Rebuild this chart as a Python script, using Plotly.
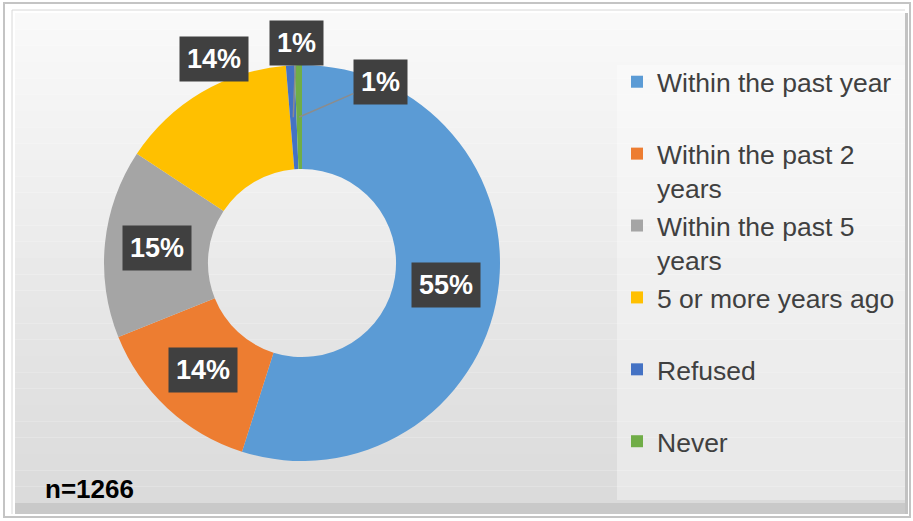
import math
import plotly.graph_objects as go

# ---------------- data ----------------
categories = ["Within the past year", "Within the past 2 years", "Within the past 5 years",
              "5 or more years ago", "Refused", "Never"]
legend_labels = ["Within the past year", "Within the past 2<br>years", "Within the past 5<br>years",
                 "5 or more years ago", "Refused", "Never"]
values = [54.9, 14.0, 15.4, 14.4, 0.7, 0.6]
colors = ["#5B9BD5", "#ED7D31", "#A5A5A5", "#FFC000", "#4472C4", "#70AD47"]
sample_note = "n=1266"

# ---------------- layout constants (pixels) ----------------
W, H = 913, 521
CX, CY, R = 302, 263, 198
HOLE = 0.475

def px(x):
    return x / W

def py(y):
    return (H - y) / H

# legend text: pad single-line entries to two lines so every entry is the same height
leg_text = [t if "<br>" in t else t + "<br>\u00a0" for t in legend_labels]

fig = go.Figure()
fig.add_trace(go.Pie(
    labels=leg_text,
    values=values,
    sort=False,
    direction="clockwise",
    rotation=0,
    hole=HOLE,
    marker=dict(colors=colors, line=dict(width=0)),
    textinfo="none",
    hoverinfo="label+percent",
    domain=dict(x=[px(CX - R), px(CX + R)], y=[py(CY + R), py(CY - R)]),
))

# ---------------- background / frame ----------------
shapes = []
shapes.append(dict(type="rect", xref="paper", yref="paper", x0=px(4), x1=px(910), y0=py(517), y1=py(3),
                   line=dict(color="#c4c4c4", width=2), fillcolor="#ffffff", layer="below"))
top, bot = 13, 503
n = 30
c0, c1 = (250, 250, 250), (218, 218, 218)
for i in range(n):
    y0 = top + (bot - top) * i / n
    y1 = top + (bot - top) * (i + 1) / n
    t = (i + 0.5) / n
    c = tuple(int(round(c0[k] + (c1[k] - c0[k]) * t)) for k in range(3))
    shapes.append(dict(type="rect", xref="paper", yref="paper", x0=px(15), x1=px(905), y0=py(y1), y1=py(y0),
                       line=dict(width=0), fillcolor="rgb(%d,%d,%d)" % c, layer="below"))
# bevel bottom / right
shapes.append(dict(type="rect", xref="paper", yref="paper", x0=px(15), x1=px(908), y0=py(514), y1=py(503),
                   line=dict(width=0), fillcolor="#c9c9c9", layer="below"))
shapes.append(dict(type="rect", xref="paper", yref="paper", x0=px(905), x1=px(908), y0=py(514), y1=py(13),
                   line=dict(width=0), fillcolor="#c2c2c2", layer="below"))
shapes.append(dict(type="line", xref="paper", yref="paper", x0=px(12), x1=px(12), y0=py(514), y1=py(10),
                   line=dict(color="#d8d8d8", width=1), layer="below"))
shapes.append(dict(type="line", xref="paper", yref="paper", x0=px(12), x1=px(905), y0=py(10), y1=py(10),
                   line=dict(color="#d8d8d8", width=1), layer="below"))
# legend panel
shapes.append(dict(type="rect", xref="paper", yref="paper", x0=px(617), x1=px(905), y0=py(500), y1=py(65),
                   line=dict(width=0), fillcolor="rgba(255,255,255,0.35)", layer="below"))

# ---------------- data labels ----------------
total = sum(values)
label_mode = ["in", "in", "in", "out", "arrow", "arrow"]
label_offset = [(0, 0), (0, 0), (0, 0), (13, 34), (3, -74), (81, -35)]
annotations = []
cum = 0.0
mid_r = (HOLE + 1) / 2 * R
for i, v in enumerate(values):
    mid = (cum + v / 2) / total
    cum += v
    ang = 2 * math.pi * mid
    txt = "%d%%" % round(v / total * 100)
    common = dict(text="<b>%s</b>" % txt, xref="paper", yref="paper",
                  font=dict(family="Liberation Sans, Arial", size=27, color="white"),
                  bgcolor="#404040", borderpad=7)
    if label_mode[i] == "in":
        x = CX + mid_r * math.sin(ang)
        y = CY - mid_r * math.cos(ang)
        annotations.append(dict(x=px(x), y=py(y), showarrow=False, xanchor="center", yanchor="middle", **common))
    elif label_mode[i] == "out":
        x = CX + R * math.sin(ang)
        y = CY - R * math.cos(ang)
        dx, dy = label_offset[i]
        annotations.append(dict(x=px(x), y=py(y), showarrow=False, xanchor="center", yanchor="middle",
                                xshift=dx, yshift=dy, **common))
    else:
        x = CX + mid_r * math.sin(ang)
        y = CY - mid_r * math.cos(ang)
        dx, dy = label_offset[i]
        annotations.append(dict(x=px(x), y=py(y), showarrow=True, arrowhead=0, arrowwidth=1.5,
                                arrowcolor="#8c8c8c", ax=dx, ay=dy, standoff=0, **common))

annotations.append(dict(text="<b>%s</b>" % sample_note, x=px(43), y=py(489), xref="paper", yref="paper",
                        xanchor="left", yanchor="middle", showarrow=False,
                        font=dict(family="Liberation Sans, Arial", size=26, color="black")))

fig.update_layout(
    width=W, height=H,
    margin=dict(l=0, r=0, t=0, b=0),
    paper_bgcolor="white",
    plot_bgcolor="white",
    shapes=shapes,
    annotations=annotations,
    showlegend=True,
    legend=dict(x=px(617), y=py(58), xanchor="left", yanchor="top",
                bgcolor="rgba(0,0,0,0)", valign="top", traceorder="normal",
                font=dict(family="Liberation Sans, Arial", size=26.5, color="#404040")),
)

fig.write_html("out.html", config={"displayModeBar": False},
               post_script="document.body.style.margin='0';")
